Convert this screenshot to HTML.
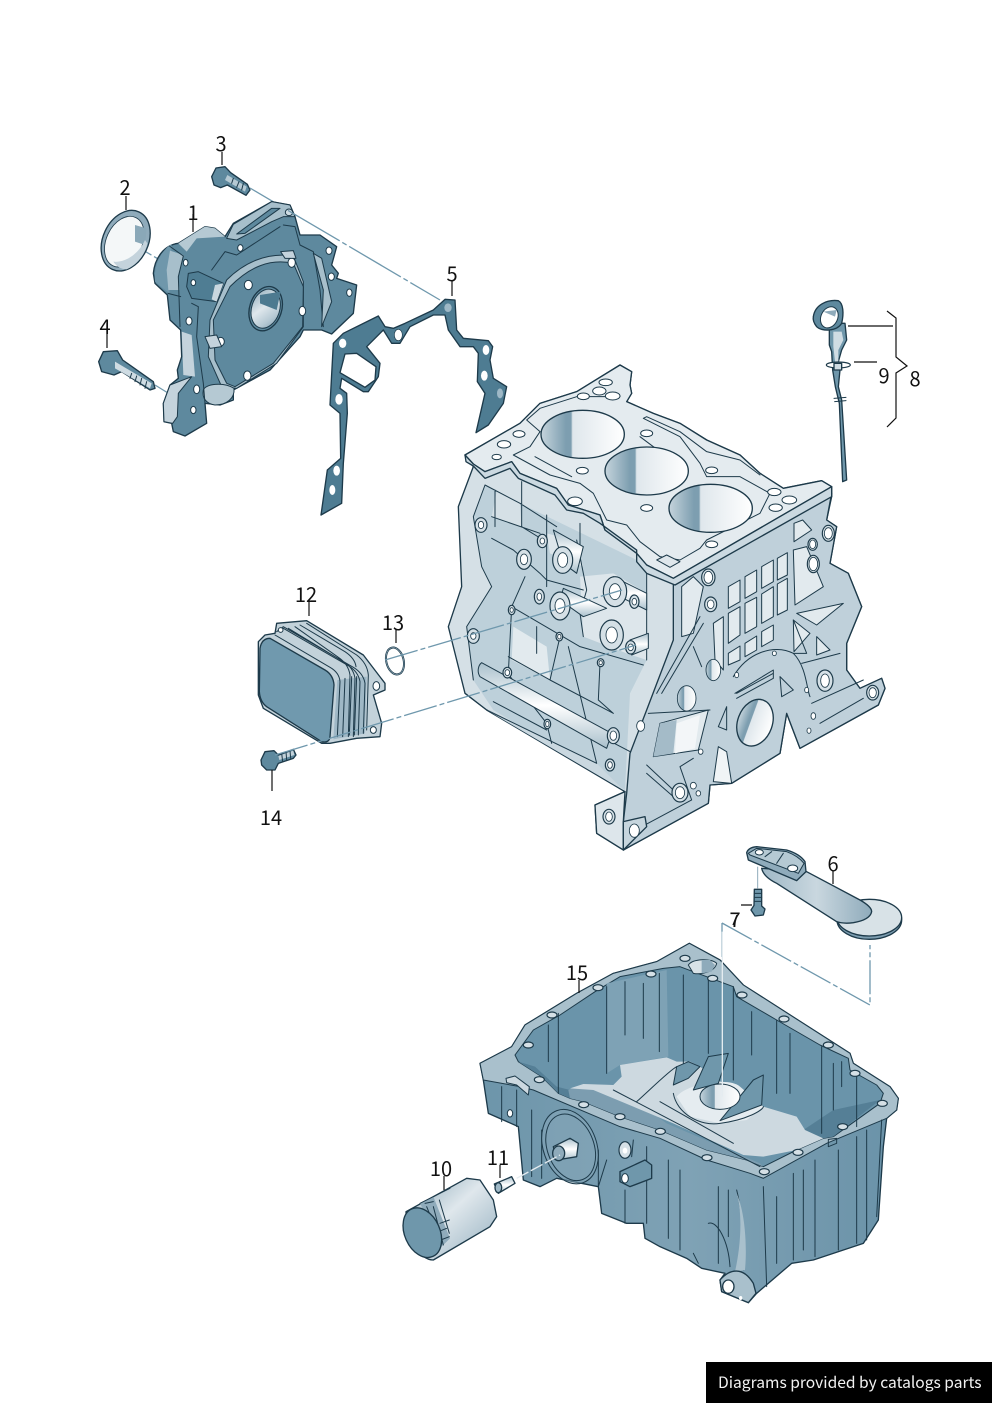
<!DOCTYPE html>
<html><head><meta charset="utf-8">
<style>
html,body{margin:0;padding:0;background:#fff;width:992px;height:1403px;overflow:hidden}
svg{display:block;position:absolute;left:0;top:0}
.l{font-family:"Noto Sans CJK JP","Liberation Sans",sans-serif;font-size:20px;fill:#111;text-anchor:middle}
.o{stroke:#1d3a4a;stroke-width:4;stroke-linejoin:round;stroke-linecap:round}
.t{stroke:#1d3a4a;stroke-width:3;stroke-linejoin:round;stroke-linecap:round}
.t:not([fill]){fill:none}
.h{stroke:#1d3a4a;stroke-width:3}
.h:not([fill]){fill:#fff}
.b{fill:#d5e0e6;stroke:#1d3a4a;stroke-width:3.5}
.d{stroke:#6f98ad;stroke-width:1.3;fill:none;stroke-dasharray:34 3 5 3}
.k{stroke:#111;stroke-width:1.2;fill:none}
#foot{position:absolute;left:706px;top:1362px;width:286px;height:41px;background:#000;color:#f2f2f2;font:15.6px/41px "Noto Sans CJK JP","Liberation Sans",sans-serif;padding-left:12px;box-sizing:border-box;white-space:nowrap}
</style></head><body>
<svg width="992" height="1403" viewBox="0 0 992 1403" xmlns="http://www.w3.org/2000/svg">
<defs>
<linearGradient id="bore" x1="0" x2="1" y1="0" y2="0">
<stop offset="0" stop-color="#c5d4dc"/><stop offset=".3" stop-color="#7d9eb0"/><stop offset=".36" stop-color="#7d9eb0"/><stop offset=".38" stop-color="#dfe7ec"/><stop offset="1" stop-color="#fff"/></linearGradient>
<linearGradient id="tube" x1="0" x2="0" y1="0" y2="1"><stop offset="0" stop-color="#a9c0cc"/><stop offset=".5" stop-color="#fff"/><stop offset="1" stop-color="#a9c0cc"/></linearGradient>
<linearGradient id="cyl" x1="0" x2="1" y1="0" y2="1"><stop offset="0" stop-color="#8aa8b8"/><stop offset=".45" stop-color="#dfe7ec"/><stop offset=".75" stop-color="#b5c8d3"/><stop offset="1" stop-color="#7c9db0"/></linearGradient>
<linearGradient id="pipe" x1="0" x2="1" y1="0" y2="0"><stop offset="0" stop-color="#9fb8c6"/><stop offset=".5" stop-color="#c9d7df"/><stop offset="1" stop-color="#8fabbb"/></linearGradient>
<linearGradient id="pan" x1="0" x2="1" y1="0" y2="0"><stop offset="0" stop-color="#6d95aa"/><stop offset=".5" stop-color="#7fa2b5"/><stop offset="1" stop-color="#6a92a8"/></linearGradient>
</defs>

<!-- dash lines behind -->
<path class="d" d="M250 188L288 210.4M122 238L160 260M155 385L168 393"/>

<!-- group 1: pump, seal, bolts, gasket -->
<g transform="translate(90,130) scale(.33333)">
<!-- seal 2 -->
<ellipse class="o" cx="107" cy="332" rx="68" ry="95" transform="rotate(25 107 332)" fill="#8fabbb"/>
<ellipse cx="103" cy="335" rx="54" ry="80" transform="rotate(25 103 335)" fill="#f4f7f8" stroke="#1d3a4a" stroke-width="2.5"/>
<path d="M135 285L170 295L165 345L135 335Z" fill="#8aa8b8"/>
<path d="M70 395C110 400 150 365 165 330L172 340C165 375 140 405 110 418C92 418 78 408 70 395Z" fill="#c4d3dc"/>
<!-- pump -->
<path class="o" fill="#5e899e" d="M190 430C195 380 225 345 265 340L345 290L375 295L405 320L430 280L545 215L600 225L615 260L630 315L690 315L740 350L725 405L745 430L740 445L800 465L790 550L725 612L695 600L640 600L630 620L540 720L430 780L430 810L390 825L345 820L350 880L285 918L250 905L245 880L222 875L220 820L240 765L265 745L262 720L275 680L272 600L240 570L232 495L195 460Z"/>
<path fill="#6f97ab" d="M195 455C190 405 215 360 245 342L238 490Z"/>
<path fill="#a7bfcb" d="M240 362L280 375L265 440L268 480L235 480L230 420Z"/>
<path fill="#b5c9d3" d="M265 340L345 290L375 295L405 320L320 325L290 365Z"/>
<path class="t" d="M238 348L280 378L265 440L270 590M234 490L272 500"/>
<!-- top slot -->
<path class="t" fill="#a7bfcb" d="M410 325L430 283L545 215L600 225L615 260L580 260L545 275L440 330Z"/>
<path class="t" fill="#5e899e" d="M440 312L545 235L570 235L465 310Z"/>
<ellipse class="h" cx="597" cy="247" rx="11" ry="10" fill="#cfdce3"/>
<path class="t" d="M580 285L615 290L630 345L670 365L690 480L700 590M365 420L405 365L440 375L570 290"/>
<path fill="#a7bfcb" class="t" d="M670 370L695 385L725 515L695 590L700 480Z"/>
<!-- plate -->
<path fill="#a7bfcb" class="t" d="M410 450C460 400 530 365 610 378L640 455L640 590L560 700L440 775L395 770L355 680L360 570Z"/>
<path fill="#5e899e" class="t" d="M420 470C480 410 540 385 610 400L640 470L638 590L550 700L435 770L410 760L375 690L370 570Z"/>
<ellipse class="o" cx="527" cy="536" rx="48" ry="68" transform="rotate(18 527 536)" fill="#5e899e"/>
<ellipse cx="527" cy="536" rx="42" ry="60" transform="rotate(18 527 536)" fill="url(#cyl)" stroke="#1d3a4a" stroke-width="3"/>
<path d="M510 495L572 485L560 540L510 520Z" fill="#4d7a90"/>
<!-- lugs -->
<path class="t" fill="#4f7d93" d="M295 430L325 425L400 460L380 515L305 505L290 470Z"/>
<path fill="#c9d7df" d="M375 465L400 460L380 515L365 508Z"/>
<ellipse class="h" cx="310" cy="458" rx="7" ry="9"/>
<ellipse class="h" cx="287" cy="398" rx="7" ry="10"/>
<ellipse class="h" cx="451" cy="354" rx="8" ry="10"/>
<ellipse class="h" cx="605" cy="398" rx="11" ry="14"/>
<ellipse class="h" cx="475" cy="465" rx="12" ry="14"/>
<ellipse class="h" cx="637" cy="543" rx="10" ry="14"/>
<ellipse class="h" cx="392" cy="635" rx="11" ry="13"/>
<ellipse class="h" cx="472" cy="737" rx="11" ry="14"/>
<ellipse class="h" cx="297" cy="573" rx="9" ry="12"/>
<ellipse class="h" cx="717" cy="362" rx="9" ry="11"/>
<ellipse class="h" cx="724" cy="440" rx="9" ry="11"/>
<ellipse class="h" cx="778" cy="488" rx="8" ry="11"/>
<ellipse class="h" cx="320" cy="778" rx="9" ry="13"/>
<ellipse class="h" cx="310" cy="840" rx="8" ry="11"/>
<path class="t" fill="#b5c9d3" d="M340 780C345 762 400 755 432 775C435 805 410 825 375 825C350 822 335 805 340 780Z"/>
<path class="t" fill="#c4d3dc" d="M222 875L220 820L240 765L305 740L265 790L262 860L248 880Z"/>
<path fill="#c4d3dc" d="M275 605L305 615L315 740L280 735Z"/>
<path class="t" d="M305 520L325 530L320 620L340 760L345 820"/>
<path class="t" fill="#c4d3dc" d="M572 365L610 362L618 385L585 385Z"/>
<path class="t" fill="#c4d3dc" d="M345 620L380 615L395 650L360 655Z"/>
<!-- bolt 3 -->
<path class="o" fill="#5e899e" d="M365 140L378 114L405 110L422 128L472 163L480 180L468 196L412 165L392 173L372 165Z"/>
<path fill="#b5c9d3" d="M412 135L470 170L465 185L405 150Z"/>
<path class="t" d="M430 145L425 160M447 155L440 172M460 160L455 180"/>
<!-- bolt 4 -->
<path class="o" fill="#5e899e" d="M26 695L40 665L82 662L98 690L190 755L195 775L180 780L95 725L72 735L35 725Z"/>
<path fill="#cfdce3" d="M75 695L185 760L180 775L75 715Z"/>
<path class="t" d="M125 730L120 745M140 738L135 755M155 745L150 765M170 755L165 775"/>
<!-- gasket 5 -->
<path class="o" fill="#4e7c92" fill-rule="evenodd" d="M693 1155L712 1020L752 985L750 850L720 825L730 640L760 610L865 558L885 590L910 595L945 580L1030 540L1065 508L1095 510L1100 600L1120 625L1195 632L1208 650L1200 690L1210 745L1250 770L1240 820L1195 885L1158 908L1185 790L1162 755L1165 670L1150 650L1110 650L1075 600L1065 555L1030 555L960 590L930 640L905 640L880 600L830 650L870 700L865 740L835 785L820 785L755 745L750 775L770 790L772 850L760 1000L755 1120ZM765 672L800 670L858 710L855 750L825 772L750 728Z"/>
<ellipse cx="758" cy="640" rx="11" ry="14" fill="#fff"/>
<ellipse cx="925" cy="615" rx="12" ry="17" fill="#fff" stroke="#1d3a4a" stroke-width="2"/>
<ellipse cx="1074" cy="533" rx="11" ry="13" fill="#9eb8c6"/>
<ellipse cx="1188" cy="660" rx="10" ry="15" fill="#fff"/>
<ellipse cx="1183" cy="737" rx="10" ry="15" fill="#fff"/>
<ellipse cx="1230" cy="790" rx="9" ry="15" fill="#9eb8c6"/>
<ellipse cx="747" cy="808" rx="11" ry="16" fill="#fff"/>
<ellipse cx="740" cy="1022" rx="10" ry="15" fill="#fff"/>
<ellipse cx="727" cy="1080" rx="9" ry="15" fill="#fff"/>
</g>
<path d="M288 210.4L440 300" stroke="#6f98ad" stroke-width="1.3" stroke-dasharray="60 3 5 3" fill="none"/>

<!-- block -->
<g transform="translate(440,360) scale(.33333)">
<path class="o" fill="#d5e0e6" d="M75 285L240 190L300 130L410 95L540 15L575 35L570 75L575 100L560 125L640 160L720 190L800 240L900 285L960 340L1030 385L1145 362L1175 380L1175 410L1160 480L1190 500L1170 610L1225 640L1265 740L1220 850L1220 930L1260 985L1325 955L1335 985L1315 1035L1080 1165L1040 1060L1020 1180L875 1270L810 1275L805 1330L550 1470L470 1420L465 1335L555 1295L140 1050L75 1000L25 800L65 680L55 440L100 320Z"/>
<!-- left panel shading -->
<path fill="#bdd0da" d="M135 375L240 430L590 600L620 640L620 900L570 1000L555 1290L160 1050L100 960L80 800L155 680L125 620L100 470Z"/>
<path fill="#d5e0e6" d="M170 395L240 430L245 500L155 470Z"/>
<path fill="#e2eaee" d="M220 800L320 860L330 960L215 900Z"/>
<path fill="#dde6eb" d="M320 520L400 540L430 620L330 580Z"/>
<path fill="#dde6eb" d="M420 650L520 640L620 700L620 900L560 880L430 830Z"/>
<path fill="#cad8e0" d="M150 1050L300 1130L470 1210L550 1290L140 1050Z"/>
<path class="t" d="M135 375L100 470L125 620L155 680L80 800L100 960M135 375L240 430L350 500M165 390L165 500M245 365L245 500L310 540M155 470L300 520M155 535L220 570L300 640L320 660L430 690M255 650L215 740L205 940M215 740L420 860L610 915M195 930L320 1090L335 1150M360 830L330 960M385 860L470 1210M205 890L330 960L520 1060M290 800L290 880M480 910L475 1020L520 1060M430 830L420 760L440 690L410 540M140 1050L470 1210M160 1025L320 1110M320 465L320 680M420 490L420 590M620 620L620 900M715 670L715 850M75 1000L140 1050M580 1180L140 950"/>
<!-- tubes -->
<path class="t" fill="url(#tube)" d="M125 908L515 1120L500 1165L120 950C110 935 115 915 125 908Z"/>
<path class="t" fill="url(#tube)" d="M370 685L500 745L430 770L360 720Z"/>
<path class="t" fill="url(#tube)" d="M520 650L620 700L620 750L520 700Z"/>
<path class="t" fill="url(#tube)" d="M340 510L430 560L410 640L370 610Z"/>
<path class="t" fill="url(#tube)" d="M570 840L625 820L625 865L575 885Z"/>
<!-- right face -->
<path class="o" fill="#bfd0da" d="M700 670L1175 400L1160 480L1190 500L1170 610L1225 640L1265 740L1220 850L1220 930L1260 985L1325 955L1335 985L1315 1035L1080 1165L1040 1060L1020 1180L875 1270L810 1275L805 1330L550 1470L550 1385L560 1300L570 1180L620 1050L700 840Z"/>
<!-- window cells -->
<g fill="#e2eaee" class="t">
<path d="M865 680L900 660L900 725L865 745Z"/><path d="M915 650L950 630L950 695L915 715Z"/><path d="M965 620L1000 600L1000 665L965 685Z"/><path d="M1012 595L1042 578L1042 645L1012 660Z"/>
<path d="M865 760L900 740L900 825L865 850Z"/><path d="M915 730L950 712L950 800L915 820Z"/><path d="M965 702L1000 680L1000 770L965 790Z"/><path d="M1012 672L1042 655L1042 750L1012 765Z"/>
<path d="M865 880L900 858L900 900L865 915Z"/><path d="M915 850L950 828L950 870L915 890Z"/><path d="M965 815L1000 795L1000 840L965 860Z"/><path d="M820 790L850 770L850 930L825 900Z"/>
<path d="M725 680L760 650L790 680L760 820L725 830Z"/>
<path d="M1062 490L1088 480L1115 510L1062 545Z"/>
<path d="M1060 570L1100 560L1150 680L1065 735Z"/>
<path d="M1070 760L1210 730L1130 795Z"/><path d="M1060 780L1110 820L1062 875Z"/><path d="M1130 830L1170 870L1130 885Z"/>
<path d="M640 1190L660 1090L805 1050L775 1170Z"/>
<path d="M820 1265L835 1160L860 1175L875 1270Z" fill="#f0f4f6"/>
</g>
<path d="M710 1090L780 1065L765 1165L705 1180Z" fill="#f3f6f8"/><path d="M660 1090L710 1080L700 1180L640 1190Z" fill="#a4bbc8"/>
<path class="t" d="M650 1000L780 770M665 1000L790 790M620 1215L700 1290M620 1240L700 1310M615 1395L755 1320L720 1220L760 1195M1085 910L1200 880M1115 1030L1270 960M1140 1090L1270 1015M1060 880L1100 880L1060 780M890 1000L1000 940M885 1000L1000 930L1000 955L890 1015M1020 950L1060 990L1025 1010ZM835 1100L860 1040L860 1110ZM625 1060L810 1050M760 860L785 920"/>
<path class="t" d="M880 950C920 880 1000 850 1060 880C1100 920 1100 990 1110 1010"/>
<!-- crank bore -->
<ellipse class="o" cx="945" cy="1088" rx="52" ry="72" transform="rotate(20 945 1088)" fill="url(#bore)"/>
<!-- front lug left -->
<path class="o" fill="#dde6eb" d="M465 1335L555 1295L550 1385L550 1470L470 1420Z"/>
<path class="o" fill="#c6d5dd" d="M550 1385L615 1370L620 1400L550 1470Z"/>
<!-- top deck -->
<path class="o" fill="#e4ebef" d="M75 285L240 190L300 130L410 95L540 15L575 35L570 75L575 100L560 125L640 160L720 190L800 240L900 285L960 340L1030 385L1145 362L1175 380L700 655L620 615L590 580L495 510L480 465L385 435L350 385L240 340L215 305L135 335L100 312Z"/>
<path class="o" fill="#cbd9e1" d="M75 285L100 312L135 335L215 305L240 340L350 385L385 435L480 465L495 510L590 580L620 615L700 655L1175 380L1175 410L705 675L620 640L590 605L590 570L480 490L430 460L380 450L345 405L235 355L210 325L135 355L100 318L78 305Z"/>
<path class="t" d="M220 285L270 260L300 215L260 180L300 145L410 110L540 110M220 285L330 345L420 370L460 400L500 480L560 495L600 545L660 590L720 600L780 565L800 540L960 460L990 400L900 350L800 350L780 310L720 230L610 175L620 170L720 215L800 275L900 300L960 345M285 290L395 350M600 230L680 290"/>
<path class="t" fill="#dfe7ec" d="M650 600L680 585L720 605L690 622Z"/>
<!-- bores -->
<g class="o" fill="url(#bore)">
<ellipse cx="428" cy="223" rx="125" ry="72"/><ellipse cx="620" cy="333" rx="125" ry="72"/><ellipse cx="812" cy="445" rx="125" ry="72"/></g>
<!-- deck holes -->
<g class="h" fill="#fff">
<ellipse cx="497" cy="67" rx="20" ry="10"/><ellipse cx="478" cy="93" rx="20" ry="12"/><ellipse cx="518" cy="108" rx="22" ry="12"/><ellipse cx="430" cy="109" rx="18" ry="10"/><ellipse cx="620" cy="220" rx="18" ry="10"/><ellipse cx="237" cy="222" rx="18" ry="10"/><ellipse cx="192" cy="253" rx="20" ry="11"/><ellipse cx="170" cy="291" rx="14" ry="8"/><ellipse cx="427" cy="332" rx="18" ry="10"/><ellipse cx="815" cy="331" rx="18" ry="10"/><ellipse cx="405" cy="424" rx="22" ry="13"/><ellipse cx="620" cy="444" rx="18" ry="10"/><ellipse cx="1003" cy="396" rx="20" ry="11"/><ellipse cx="1048" cy="420" rx="22" ry="12"/><ellipse cx="1007" cy="443" rx="20" ry="11"/><ellipse cx="815" cy="553" rx="18" ry="10"/>
</g>
<!-- bosses -->
<g class="b">
<ellipse cx="123" cy="495" rx="18" ry="22"/><ellipse cx="307" cy="543" rx="15" ry="20"/><ellipse cx="252" cy="598" rx="22" ry="30"/><ellipse cx="368" cy="600" rx="30" ry="40"/><ellipse cx="360" cy="738" rx="30" ry="42"/><ellipse cx="298" cy="710" rx="15" ry="22"/><ellipse cx="525" cy="695" rx="35" ry="45"/><ellipse cx="583" cy="725" rx="14" ry="20"/><ellipse cx="515" cy="825" rx="35" ry="45"/><ellipse cx="572" cy="862" rx="15" ry="20"/><ellipse cx="100" cy="828" rx="18" ry="22"/><ellipse cx="215" cy="750" rx="10" ry="14"/><ellipse cx="358" cy="830" rx="10" ry="13"/><ellipse cx="482" cy="908" rx="10" ry="12"/><ellipse cx="202" cy="938" rx="13" ry="16"/><ellipse cx="322" cy="1092" rx="10" ry="14"/><ellipse cx="520" cy="1127" rx="18" ry="24"/><ellipse cx="510" cy="1215" rx="14" ry="18"/><ellipse cx="805" cy="652" rx="20" ry="25"/><ellipse cx="812" cy="733" rx="18" ry="22"/><ellipse cx="1118" cy="553" rx="14" ry="18"/><ellipse cx="1165" cy="520" rx="18" ry="24"/><ellipse cx="1120" cy="612" rx="18" ry="26"/><ellipse cx="1298" cy="998" rx="18" ry="22"/><ellipse cx="1155" cy="962" rx="24" ry="32"/><ellipse cx="720" cy="1298" rx="24" ry="28"/><ellipse cx="507" cy="1370" rx="18" ry="22"/>
</g>
<g fill="#fff" stroke="#1d3a4a" stroke-width="2.5">
<ellipse cx="123" cy="495" rx="8" ry="11"/><ellipse cx="307" cy="543" rx="7" ry="9"/><ellipse cx="252" cy="598" rx="11" ry="16"/><ellipse cx="368" cy="600" rx="15" ry="22"/><ellipse cx="360" cy="738" rx="15" ry="22"/><ellipse cx="298" cy="710" rx="7" ry="11"/><ellipse cx="525" cy="695" rx="17" ry="24"/><ellipse cx="583" cy="725" rx="7" ry="10"/><ellipse cx="515" cy="825" rx="17" ry="24"/><ellipse cx="572" cy="862" rx="8" ry="10"/><ellipse cx="100" cy="828" rx="8" ry="10"/><ellipse cx="215" cy="750" rx="5" ry="7"/><ellipse cx="358" cy="830" rx="5" ry="7"/><ellipse cx="482" cy="908" rx="5" ry="6"/><ellipse cx="202" cy="938" rx="7" ry="9"/><ellipse cx="322" cy="1092" rx="5" ry="8"/><ellipse cx="520" cy="1127" rx="10" ry="14"/><ellipse cx="510" cy="1215" rx="7" ry="10"/><ellipse cx="805" cy="652" rx="13" ry="18"/><ellipse cx="812" cy="733" rx="10" ry="13"/><ellipse cx="1118" cy="553" rx="9" ry="13"/><ellipse cx="1165" cy="520" rx="12" ry="17"/><ellipse cx="1120" cy="612" rx="13" ry="20"/><ellipse cx="1298" cy="998" rx="11" ry="15"/><ellipse cx="1155" cy="962" rx="13" ry="20"/><ellipse cx="720" cy="1298" rx="14" ry="18"/><ellipse cx="507" cy="1370" rx="10" ry="14"/><ellipse cx="583" cy="1412" rx="15" ry="20"/><ellipse cx="602" cy="1098" rx="12" ry="16"/><ellipse cx="1100" cy="990" rx="6" ry="8"/><ellipse cx="1120" cy="1068" rx="7" ry="10"/><ellipse cx="1107" cy="1112" rx="6" ry="8"/><ellipse cx="890" cy="945" rx="6" ry="8"/><ellipse cx="1003" cy="880" rx="6" ry="7"/><ellipse cx="782" cy="1175" rx="7" ry="8"/><ellipse cx="760" cy="1277" rx="9" ry="10"/><ellipse cx="775" cy="1300" rx="7" ry="8"/>
<ellipse cx="820" cy="930" rx="22" ry="32" fill="url(#bore)"/><ellipse cx="740" cy="1015" rx="28" ry="38" fill="url(#bore)"/>
</g>
</g>

<!-- oil cooler -->
<g transform="translate(250,580) scale(.33333)">
<path class="o" fill="#c3d2da" d="M25 185L45 165L75 160L80 130L170 122L340 225L405 310L405 330L370 345L395 430L390 470L320 475L240 490L215 490L40 385L25 345Z"/>
<path d="M262 300L350 290L345 460L250 478Z" fill="#9fb8c6"/>
<path class="t" d="M80 155L100 140L310 262Q340 280 345 310L340 460M100 145L295 257Q325 275 330 305L325 465M115 145L280 245Q310 262 315 295L310 470M135 140L265 232Q295 252 300 285L295 470M150 135L285 215Q315 235 318 260M75 165L240 262Q268 278 270 305L262 470M170 130L320 225Q352 250 355 285L350 450"/>
<path class="t" d="M285 295L278 470M305 290L298 465M320 290L313 465"/>
<path class="o" fill="#7099ae" d="M30 205Q35 175 60 175L225 270Q250 285 252 315L240 470Q238 490 215 485L50 380Q30 365 28 335Z"/>
<ellipse class="h" cx="379" cy="318" rx="10" ry="13"/>
<ellipse class="h" cx="370" cy="450" rx="9" ry="10"/>
<ellipse class="h" cx="92" cy="150" rx="7" ry="7"/>
<!-- ring 13 -->
<ellipse cx="435" cy="243" rx="26" ry="41" transform="rotate(-14 435 243)" fill="none" stroke="#1d3a4a" stroke-width="6"/>
<ellipse cx="435" cy="243" rx="26" ry="41" transform="rotate(-14 435 243)" fill="none" stroke="#8fabbb" stroke-width="2"/>
<!-- bolt 14 -->
<path class="o" fill="#5e899e" d="M33 540L45 515L72 512L85 525L130 508L138 525L130 535L85 550L75 570L50 570L35 555Z"/>
<path fill="#c3d2da" d="M85 528L130 512L133 525L88 540Z"/>
<path class="t" d="M95 520L98 545M108 515L110 540M120 512L122 535"/>
</g>
<path class="d" d="M385 660L622 590M275 755L636 645"/>

<!-- dipstick -->
<g transform="translate(790,290) scale(.33333)">
<path class="o" fill="#6f97ab" d="M118 100L165 100L170 150L155 180L145 215L150 240L145 290L155 330L170 570L158 575L148 340L136 290L128 240L125 185L118 165Z"/>
<path fill="#cfdce3" d="M130 125L155 125L160 150L145 180L145 215L135 215L130 170Z"/>
<path class="o" fill="#5e899e" d="M70 80C75 45 110 28 145 32C160 40 162 70 155 100C140 125 95 125 80 110C72 100 68 90 70 80Z"/>
<ellipse cx="118" cy="82" rx="25" ry="33" transform="rotate(25 118 82)" fill="#fff" stroke="#1d3a4a" stroke-width="3"/>
<path d="M100 65L140 60L135 80Z" fill="#8fabbb"/>
<ellipse cx="145" cy="225" rx="36" ry="9" fill="#fff" stroke="#1d3a4a" stroke-width="3.5"/>
<path class="o" fill="#cfdce3" d="M132 220L155 220L155 240L132 240Z"/>
<path class="t" d="M132 325L168 322M134 335L168 332"/>
</g>

<!-- pickup 6 and bolt 7 -->
<g transform="translate(720,840) scale(.33333)">
<ellipse class="o" cx="448" cy="240" rx="97" ry="58" fill="#7c9db0"/>
<ellipse class="o" cx="448" cy="233" rx="97" ry="55" fill="#d8e2e7"/>
<path class="o" fill="url(#pipe)" d="M125 85L260 95L420 180Q455 200 455 215Q450 240 400 248Q370 252 350 245L170 130Q130 110 125 85Z"/>
<path class="o" fill="#8fabbb" d="M80 38Q85 22 110 20L200 30Q240 42 255 65L258 95L230 122L85 60Z"/>
<path class="t" fill="#b5c9d3" d="M85 40L110 25L200 35Q235 48 252 70L235 100L90 45Z"/>
<ellipse class="h" cx="118" cy="37" rx="12" ry="8"/>
<ellipse class="h" cx="218" cy="85" rx="15" ry="10"/>
<path class="t" d="M135 50L155 35M170 70L190 40"/>
<path d="M113 80V145" stroke="#8fabbb" stroke-width="3" fill="none"/>
<path class="o" fill="#6f97ab" d="M103 148L125 148L125 198L135 207L130 225L105 228L93 210L102 196Z"/>
<path class="t" d="M103 160L125 160M103 172L125 172M103 184L125 184"/>
</g>
<path class="d" d="M722 923L870 1005L870 945M722 923V1005"/>

<!-- oil pan -->
<g transform="translate(400,930) scale(.33333)">
<path class="o" fill="url(#pan)" d="M240 400L335 350L375 285L530 190L640 130L770 95L868 40L960 90L1030 165L1350 370L1360 400L1470 470L1495 505L1490 540L1460 565L1450 650L1435 870L1390 940L1240 990L1175 1000L1070 1090L1045 1118L965 1085L960 1050L975 1030L905 1015L860 985L780 950L735 925L730 880L680 880L605 850L595 770L470 745L420 770L370 750L355 590L265 550L250 450Z"/>
<!-- rim -->
<path fill="#a9c0cc" stroke="#1d3a4a" stroke-width="3" stroke-linejoin="round" d="M240 400L335 350L375 285L530 190L640 130L770 95L868 40L960 90L1030 165L1350 370L1360 400L1470 470L1495 505L1490 540L1460 565L1280 640L1090 745L1050 730L920 690L780 625L660 590L400 480L360 470L250 450Z"/>
<!-- cavity -->
<path class="t" fill="#6a94aa" d="M345 375L400 300L480 255L585 185L660 140L790 115L840 110L1000 170L1010 200L1130 270L1260 345L1345 385L1350 420L1430 465L1450 490L1440 520L1300 620L1270 625L1190 660L1090 710L1040 690L1000 680L920 660L780 600L660 560L550 515L510 505L475 490L425 440L355 395Z"/>
<path fill="#7ea2b5" d="M620 160L800 120L805 380L660 405L620 430Z"/>
<path fill="#557f96" d="M355 395L405 410L470 470L510 480L510 505L475 490L425 440Z"/>
<path fill="#557f96" d="M1210 600L1300 540L1440 510L1300 620L1270 625Z"/>
<!-- floor -->
<path fill="#7c9db0" d="M505 480L550 462L640 465L800 580L1080 700L1090 710L1040 690L1000 680L920 660L780 600L660 560L550 515L510 505Z"/>
<path fill="#cdd9e0" d="M510 475L550 462L640 465L665 440L660 405L800 382L830 395L870 395L900 410L1010 490L1090 530L1190 560L1215 600L1270 625L1190 660L1090 680L1030 675L820 580L700 530L580 480Z"/>
<path fill="#e5ecf0" d="M830 500C860 460 990 440 1020 470L1090 530L1040 570L960 580L870 560Z"/>
<path fill="#6f97ab" class="t" d="M880 480L925 380L985 370L955 460Z"/>
<path fill="#6f97ab" class="t" d="M960 572L1060 450L1090 435L1085 525Z"/>
<path fill="#6f97ab" class="t" d="M830 410L865 395L900 410L865 445L820 465Z"/>
<ellipse class="t" cx="960" cy="500" rx="60" ry="38" fill="url(#bore)"/>
<path class="t" d="M710 515C760 470 810 420 830 410M640 480L1080 710M780 515L1000 640M820 490C830 550 900 590 960 580C1040 570 1090 540 1090 530M475 250V490M445 285V395M620 170V430M675 155V315M730 160V325M778 130V365M850 135V400M925 140V370M1000 170V450M1055 245V375M1130 270V490M1170 310V490M1265 350V610M1300 400V540M1370 440V590M1325 395V470"/>
<!-- hole filter port -->
<path fill="#d8e2e7" stroke="#1d3a4a" stroke-width="3" d="M865 105C880 85 935 85 950 100C945 125 905 135 880 130Z"/>
<path fill="#8fabbb" d="M905 90L930 90L945 105L935 125L905 130Z"/>
<!-- rim holes -->
<g class="b" fill="#e5ecf0">
<ellipse cx="855" cy="85" rx="15" ry="9"/><ellipse cx="938" cy="145" rx="15" ry="9"/><ellipse cx="753" cy="132" rx="15" ry="9"/><ellipse cx="594" cy="173" rx="15" ry="9"/><ellipse cx="456" cy="255" rx="15" ry="9"/><ellipse cx="385" cy="345" rx="15" ry="9"/><ellipse cx="418" cy="449" rx="15" ry="9"/><ellipse cx="551" cy="524" rx="15" ry="9"/><ellipse cx="660" cy="560" rx="15" ry="9"/><ellipse cx="781" cy="604" rx="15" ry="9"/><ellipse cx="921" cy="683" rx="15" ry="9"/><ellipse cx="1093" cy="725" rx="15" ry="9"/><ellipse cx="1194" cy="667" rx="15" ry="9"/><ellipse cx="1328" cy="590" rx="15" ry="9"/><ellipse cx="1447" cy="520" rx="15" ry="9"/><ellipse cx="1365" cy="430" rx="15" ry="9"/><ellipse cx="1285" cy="345" rx="15" ry="9"/><ellipse cx="1152" cy="267" rx="15" ry="9"/><ellipse cx="1026" cy="195" rx="15" ry="9"/>
</g>
<path class="t" fill="#cdd9e0" d="M318 445L345 438L388 470L385 495L350 465L320 458Z"/>
<path class="t" d="M1285 628L1310 625L1310 640L1285 650Z"/>
<!-- side ribs -->
<path class="t" d="M305 470V575M350 480V590M395 540V740M425 600V745M840 720V960M805 690V925M955 770V1000M985 780V920M1130 800V1000M1180 730V990M1210 720V960M1245 690V980M1315 660V960M1370 620V940M1400 600V930M1445 570L1430 860M1090 770L1100 1070M1010 780C1030 860 1030 960 1030 1020M740 650V880M675 780V880M700 630L695 680M595 660V770L620 690"/>
<path class="t" d="M925 880C950 870 985 930 990 1010M880 970L895 1000"/>
<path fill="#a9c0cc" d="M1010 790C1040 860 1040 970 1035 1020L1005 1025C1020 960 1030 860 1010 790Z"/>
<!-- drain boss -->
<path class="o" fill="#a9c0cc" d="M960 1050C990 1015 1030 1010 1060 1060L1068 1090L1045 1118L965 1085Z"/>
<ellipse class="o" cx="985" cy="1070" rx="17" ry="20" fill="#fff"/>
<ellipse cx="1022" cy="1104" rx="5" ry="6" fill="#fff"/>
<!-- filter boss -->
<ellipse class="t" cx="510" cy="650" rx="80" ry="115" transform="rotate(-20 510 650)" fill="#87a8b9" fill-opacity=".5"/>
<ellipse class="t" cx="512" cy="652" rx="70" ry="103" transform="rotate(-20 512 652)"/>
<path class="o" fill="url(#tube)" d="M460 650L510 625L535 640L530 680L470 690Z"/>
<ellipse class="o" cx="476" cy="670" rx="18" ry="22" fill="#8fabbb"/>
<ellipse cx="330" cy="550" rx="8" ry="11" class="h"/>
<path class="o" fill="#6f97ab" d="M660 725L735 690L755 705L755 745L690 770L660 755Z"/>
<ellipse class="h" cx="675" cy="745" rx="10" ry="14"/>
<ellipse class="b" cx="675" cy="660" rx="18" ry="25"/><ellipse cx="675" cy="662" rx="7" ry="9" fill="#fff"/>
<!-- vertical pipe line -->
<path d="M967 5V500" stroke="#e5ecf0" stroke-width="4"/>
<!-- filter 10 -->
<path class="o" fill="url(#cyl)" d="M18 845L200 745L240 750L280 810L290 860L270 890L100 990C60 990 20 930 18 845Z"/>
<path d="M60 820L100 800L150 925L125 950Z" fill="#8fabbb"/>
<path class="t" d="M60 820L150 775M80 830L125 940M100 830L130 945M118 810L148 910M75 820L100 815M120 880L148 870M115 905L140 895M122 930L148 920"/>
<ellipse class="o" cx="67" cy="908" rx="53" ry="78" transform="rotate(-24 67 908)" fill="#6f97ab"/>
<!-- bolt 11 -->
<path class="o" fill="url(#tube)" d="M283 762L335 740L345 760L295 790Z"/>
<ellipse class="o" cx="295" cy="773" rx="10" ry="15" fill="#9eb8c6"/>
<path d="M350 745L480 675" stroke="#e5ecf0" stroke-width="4" stroke-dasharray="40 8"/>
</g>

<!-- leaders -->
<path class="k" d="M193 214V232M126 196V210M222 152V165M107 334V348M452 281V296M833 871V884M741 905H752M733 925L737 915M444 1176V1190M500 1165V1178M309 602V616M396 630V643M272 770V791M579 980V993M848 326H893M854 362H877M887 311L896 318V357L907 366L896 373V418L887 427"/>

<!-- labels -->
<text class="l" x="193" y="220">1</text>
<text class="l" x="125" y="195">2</text>
<text class="l" x="221" y="151">3</text>
<text class="l" x="105" y="334">4</text>
<text class="l" x="452" y="281">5</text>
<text class="l" x="833" y="871">6</text>
<text class="l" x="735" y="927">7</text>
<text class="l" x="915" y="386">8</text>
<text class="l" x="884" y="383">9</text>
<text class="l" x="441" y="1176">10</text>
<text class="l" x="498" y="1165">11</text>
<text class="l" x="306" y="602">12</text>
<text class="l" x="393" y="630">13</text>
<text class="l" x="271" y="825">14</text>
<text class="l" x="577" y="980">15</text>
</svg>
<div id="foot">Diagrams provided by catalogs parts</div>
</body></html>
